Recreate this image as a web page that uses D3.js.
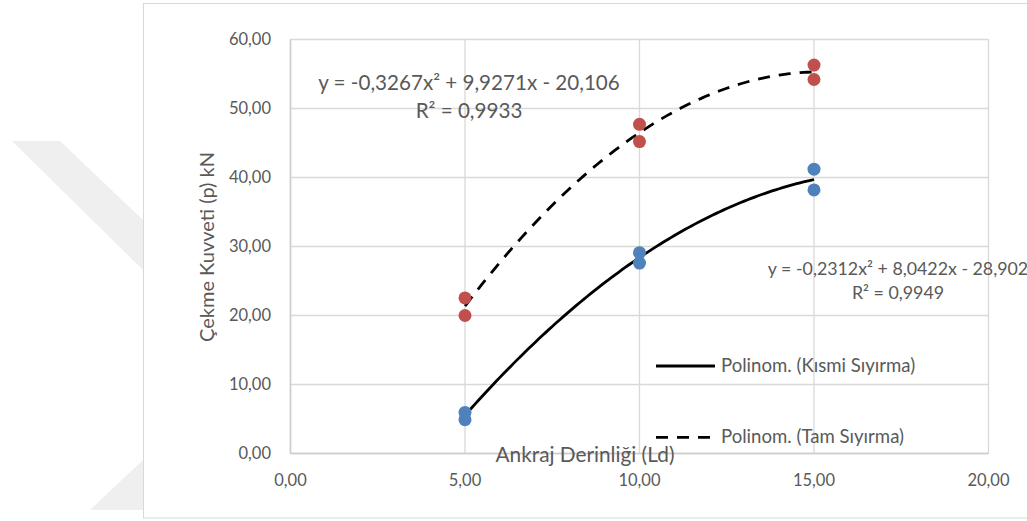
<!DOCTYPE html>
<html><head><meta charset="utf-8">
<script src="https://cdn.jsdelivr.net/npm/d3@7"></script>
<style>
html,body{margin:0;padding:0;background:#fff;}
svg{display:block;}
text{font-family:Lato,"Open Sans",sans-serif;fill:#595959;}
</style></head>
<body>
<svg id="chart" width="1027" height="521"></svg>
<script>
// ---- data ----
const xTicks = [0, 5, 10, 15, 20];
const yTicks = [0, 10, 20, 30, 40, 50, 60];
const kismiX = [5, 5, 10, 10, 15, 15];
const kismiY = [5.95, 4.9, 29.1, 27.6, 41.2, 38.2];
const tamX = [5, 5, 10, 10, 15, 15];
const tamY = [22.55, 20.0, 47.7, 45.2, 56.3, 54.2];
const kismiCoef = [-0.2312, 8.0422, -28.902];
const tamCoef = [-0.3267, 9.9271, -20.106];
const kismiEq = ["y = -0,2312x² + 8,0422x - 28,902", "R² = 0,9949"];
const tamEq = ["y = -0,3267x² + 9,9271x - 20,106", "R² = 0,9933"];
const legendLabels = ["Polinom. (Kısmi Sıyırma)", "Polinom. (Tam Sıyırma)"];
const xTitle = "Ankraj Derinliği (Ld)";
const yTitle = "Çekme Kuvveti (p) kN";

const svg = d3.select("#chart");
const fmt = v => d3.format(".2f")(v).replace(".", ",");

// watermark (background decoration)
svg.append("polygon").attr("points", "12,141 60,141 143,220 143,270").attr("fill", "#efefef");
svg.append("polygon").attr("points", "90,510 143,460 143,510").attr("fill", "#efefef");

// chart frame
svg.append("rect").attr("x", 143.5).attr("y", 3.5).attr("width", 900).attr("height", 514.5)
  .attr("fill", "#fff").attr("stroke", "#d9d9d9").attr("stroke-width", 1);

const x = d3.scaleLinear().domain([0, 20]).range([290.5, 988.5]);
const y = d3.scaleLinear().domain([0, 60]).range([453.5, 39.5]);

// gridlines
svg.append("g").selectAll("line.h").data(yTicks).join("line")
  .attr("x1", x(0)).attr("x2", x(20)).attr("y1", d => y(d)).attr("y2", d => y(d))
  .attr("stroke", "#d9d9d9").attr("stroke-width", 1.3);
svg.append("g").selectAll("line.v").data(xTicks).join("line")
  .attr("y1", y(0)).attr("y2", y(60)).attr("x1", d => x(d)).attr("x2", d => x(d))
  .attr("stroke", "#d9d9d9").attr("stroke-width", 1.3);
// axis lines
svg.append("line").attr("x1", x(0)).attr("x2", x(20)).attr("y1", y(0)).attr("y2", y(0)).attr("stroke", "#cccccc").attr("stroke-width", 1.5);
svg.append("line").attr("x1", x(0)).attr("x2", x(0)).attr("y1", y(0)).attr("y2", y(60)).attr("stroke", "#cccccc").attr("stroke-width", 1.5);

// tick labels
svg.append("g").selectAll("text").data(yTicks).join("text")
  .attr("x", 271).attr("y", d => y(d)).attr("dy", "0.35em").attr("text-anchor", "end")
  .style("font-size", "16.5px").text(fmt);
svg.append("g").selectAll("text").data(xTicks).join("text")
  .attr("x", d => x(d)).attr("y", 486).attr("text-anchor", "middle")
  .style("font-size", "16.5px").text(fmt);

// axis titles
svg.append("text").attr("x", 585).attr("y", 462).attr("text-anchor", "middle")
  .style("font-size", "20.8px").text(xTitle);
svg.append("text").attr("transform", "translate(214,247) rotate(-90)").attr("text-anchor", "middle")
  .style("font-size", "20px").text(yTitle);

// trendlines
const poly = c => v => c[0] * v * v + c[1] * v + c[2];
const xs = d3.range(5, 15.001, 0.1);
const line = f => d3.line().x(d => x(d)).y(d => y(f(d))).curve(d3.curveLinear)(xs);
svg.append("path").attr("d", line(poly(tamCoef))).attr("fill", "none").attr("stroke", "#000")
  .attr("stroke-width", 2.8).attr("stroke-dasharray", "12,9");
svg.append("path").attr("d", line(poly(kismiCoef))).attr("fill", "none").attr("stroke", "#000")
  .attr("stroke-width", 2.8);

// points
svg.append("g").selectAll("circle").data(kismiX.map((v, i) => [v, kismiY[i]])).join("circle")
  .attr("cx", d => x(d[0])).attr("cy", d => y(d[1])).attr("r", 6.5).attr("fill", "#4f81bd");
svg.append("g").selectAll("circle").data(tamX.map((v, i) => [v, tamY[i]])).join("circle")
  .attr("cx", d => x(d[0])).attr("cy", d => y(d[1])).attr("r", 6.5).attr("fill", "#c0504d");

// equations
svg.append("g").selectAll("text").data(tamEq).join("text")
  .attr("x", 469).attr("y", (d, i) => 90 + i * 28).attr("text-anchor", "middle")
  .style("font-size", "20.6px").text(d => d);
svg.append("g").selectAll("text").data(kismiEq).join("text")
  .attr("x", 898).attr("y", (d, i) => 275 + i * 24).attr("text-anchor", "middle")
  .style("font-size", "17.8px").text(d => d);

// legend
const lg = svg.append("g").selectAll("g").data(legendLabels).join("g")
  .attr("transform", (d, i) => `translate(656,${366 + i * 71.3})`);
lg.append("line").attr("x1", 0).attr("x2", 59).attr("y1", 0).attr("y2", 0)
  .attr("stroke", "#000").attr("stroke-width", 2.8)
  .attr("stroke-dasharray", (d, i) => i === 1 ? "12,9" : null);
lg.append("text").attr("x", 65).attr("y", 0).attr("dy", "0.33em")
  .style("font-size", "18.6px").text(d => d);
</script>
</body></html>
